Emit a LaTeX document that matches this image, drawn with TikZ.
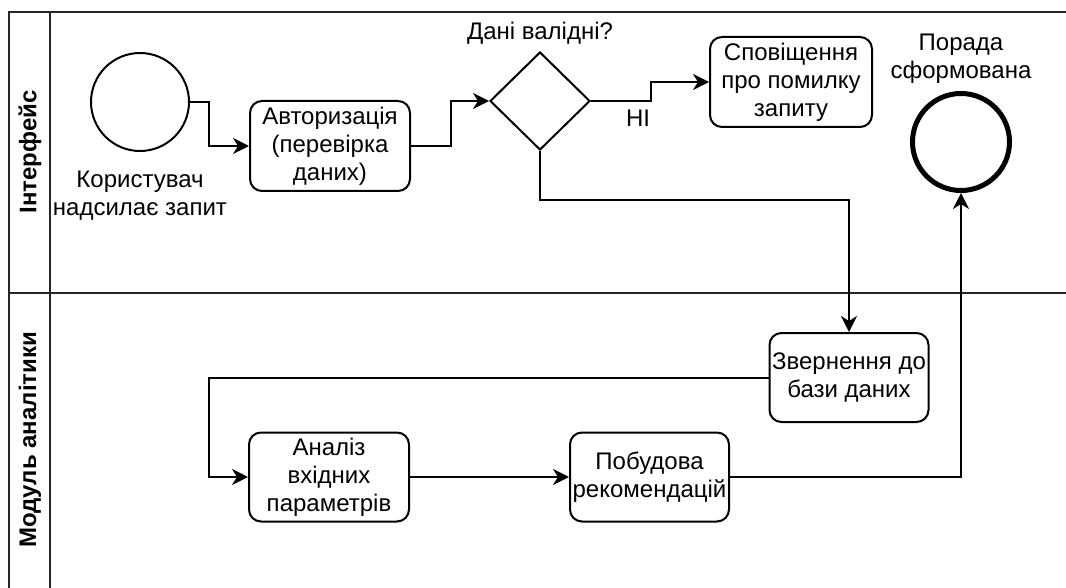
\documentclass[tikz,border=0pt]{standalone}
\usepackage{fontspec}
\setmainfont{Liberation Sans}
\usetikzlibrary{shapes.geometric,arrows.meta,calc}

\newcommand{\bodyfont}{\fontsize{24}{28}\selectfont}

\tikzset{
  lane/.style={line width=2pt, draw=black!85},
  task/.style={draw, line width=2pt, rounded corners=12pt, align=center,
               minimum width=160pt, minimum height=90pt, inner sep=2pt},
  flow/.style={line width=2pt, -{Stealth[length=16pt,width=16pt,inset=5pt]}},
  lanelabel/.style={rotate=90, font=\bodyfont\bfseries},
  txt/.style={align=center, inner sep=0pt}
}

\begin{document}
\begin{tikzpicture}[x=1pt, y=-1pt, font=\bodyfont]
  \useasboundingbox (0,0) rectangle (1066,588);
  \fill[white] (0,0) rectangle (1066,588);

  % swimlane frame
  \begin{scope}
    \clip (0,0) rectangle (1066,588);
    \draw[lane] (9,600) -- (9,12) -- (1080,12);
    \draw[lane] (50,12) -- (50,600);
    \draw[lane] (9,293) -- (1080,293);
  \end{scope}
  \node[lanelabel] (laneA) at (30,152) {Інтерфейс};
  \node[lanelabel] (laneB) at (30,440) {Модуль аналітики};

  % events
  \node[circle, draw, line width=2pt, minimum size=98pt, inner sep=0pt] (start) at (140,102) {};
  \node[txt] (startlbl) at (140,196) {Користувач\\надсилає запит};
  \node[circle, draw, line width=5pt, minimum size=97pt, inner sep=0pt] (end) at (961,142) {};
  \node[txt] (endlbl) at (961,59) {Порада\\сформована};

  % tasks
  \node[task] (auth) at (330,146) {Авторизація\\(перевірка\\даних)};
  \node[diamond, draw, line width=2pt, minimum width=100pt, minimum height=98pt, inner sep=0pt] (dia) at (540,101) {};
  \node[txt] (dialbl) at (540,33) {Дані валідні?};
  \node[task, minimum width=162pt] (notif) at (791,82) {Сповіщення\\про помилку\\запиту};
  \node[task, minimum width=159pt, minimum height=89pt] (db) at (849,377.5) {Звернення до\\бази даних};
  \node[task, minimum height=89pt] (ana) at (329,477) {Аналіз\\вхідних\\параметрів};
  \node[task, minimum width=159pt, minimum height=89pt] (build) at (649.5,477) {Побудова\\рекомендацій};

  % flows
  \draw[flow] (start.east) -- ++(19,0) |- (auth.west);
  \draw[flow] (auth.east) -- ++(40,0) |- (dia.west);
  \draw[flow] (dia.east) -- ++(60,0) |- (notif.west);
  \node[txt] (no) at (638,118) {НІ};
  \draw[flow] (dia.south) -- ++(0,49) -| (db.north);
  \coordinate (loop) at (209,377.5);
  \draw[flow] (db.west) -- (loop) |- (ana.west);
  \draw[flow] (ana.east) -- (build.west);
  \draw[flow] (build.east) -| (end.south);
\end{tikzpicture}
\end{document}
